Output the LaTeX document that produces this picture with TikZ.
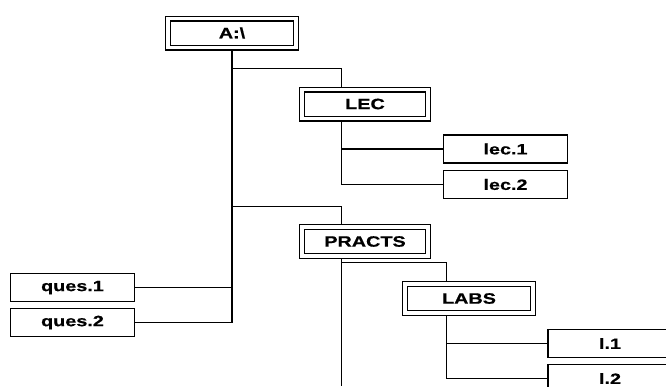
\documentclass[tikz,border=0pt]{standalone}
\usepackage{fontspec}
\setmainfont{Liberation Sans}[FakeStretch=1.32,FakeBold=0.6]
\usetikzlibrary{calc,backgrounds}

\tikzset{
  dirbox/.style={draw,fill=white,double,double distance=3.6pt,line width=1.2pt,minimum width=#1,minimum height=29pt,inner sep=0pt,font=\fontsize{15}{16}\selectfont\bfseries},
  dirbox/.default=126pt,
  filebox/.style={draw,fill=white,line width=1.2pt,minimum width=124pt,minimum height=28pt,inner sep=0pt,font=\fontsize{15}{16}\selectfont\bfseries},
  tree/.style={line width=1.2pt,black}
}

\begin{document}
\begin{tikzpicture}[x=1pt,y=-1pt]
            \path[use as bounding box] (0,0) rectangle (666,386);

            \node[dirbox=128pt] (A) at (232,33) {A:\textbackslash};
            \node[dirbox] (LEC) at (365,104) {LEC};
            \node[dirbox] (PRACTS) at (365,241.5) {PRACTS};
            \node[dirbox=128pt] (LABS) at (469,298.5) {LABS};

            \foreach \n/\t/\x/\y in {lec1/lec.1/505.5/149, lec2/lec.2/505.5/184.5, ques1/ques.1/72.5/287.5, ques2/ques.2/72.5/322.5, l1/l.1/610/343.5, l2/l.2/610/378.5} {
            \node[filebox] (\n) at (\x,\y) {\t};}

            \coordinate (lecx) at ($(LEC.north west)+(40,0)$);
            \coordinate (practsx) at ($(PRACTS.north west)+(40,0)$);
            \coordinate (labsx) at ($(LABS.north west)+(42,0)$);
            \coordinate (practsend) at (practsx |- 0,386);

            \begin{scope}[on background layer]
            \draw[tree] (A.south) -- (A.south |- ques2.east);
            \draw[tree] (ques1.east) -- (ques1.east -| A.south);
            \draw[tree] (ques2.east) -- (ques2.east -| A.south);
            \draw[tree] ($(A.south)+(0,20)$) -| (lecx);
            \draw[tree] ($(A.south)+(0,158)$) -| (practsx);

            \draw[tree] (lecx) -- (lecx |- lec2.west) -- (lec2.west);
            \draw[tree] (lec1.west) -- (lec1.west -| lecx);

            \draw[tree] (practsx) -- (practsend);
            \draw[tree] ($(practsx |- PRACTS.south)+(0,6)$) -| (labsx);

            \draw[tree] (labsx) -- (labsx |- l2.west) -- (l2.west);
            \draw[tree] (l1.west) -- (l1.west -| labsx);
            \end{scope}
        \end{tikzpicture}
\end{document}
